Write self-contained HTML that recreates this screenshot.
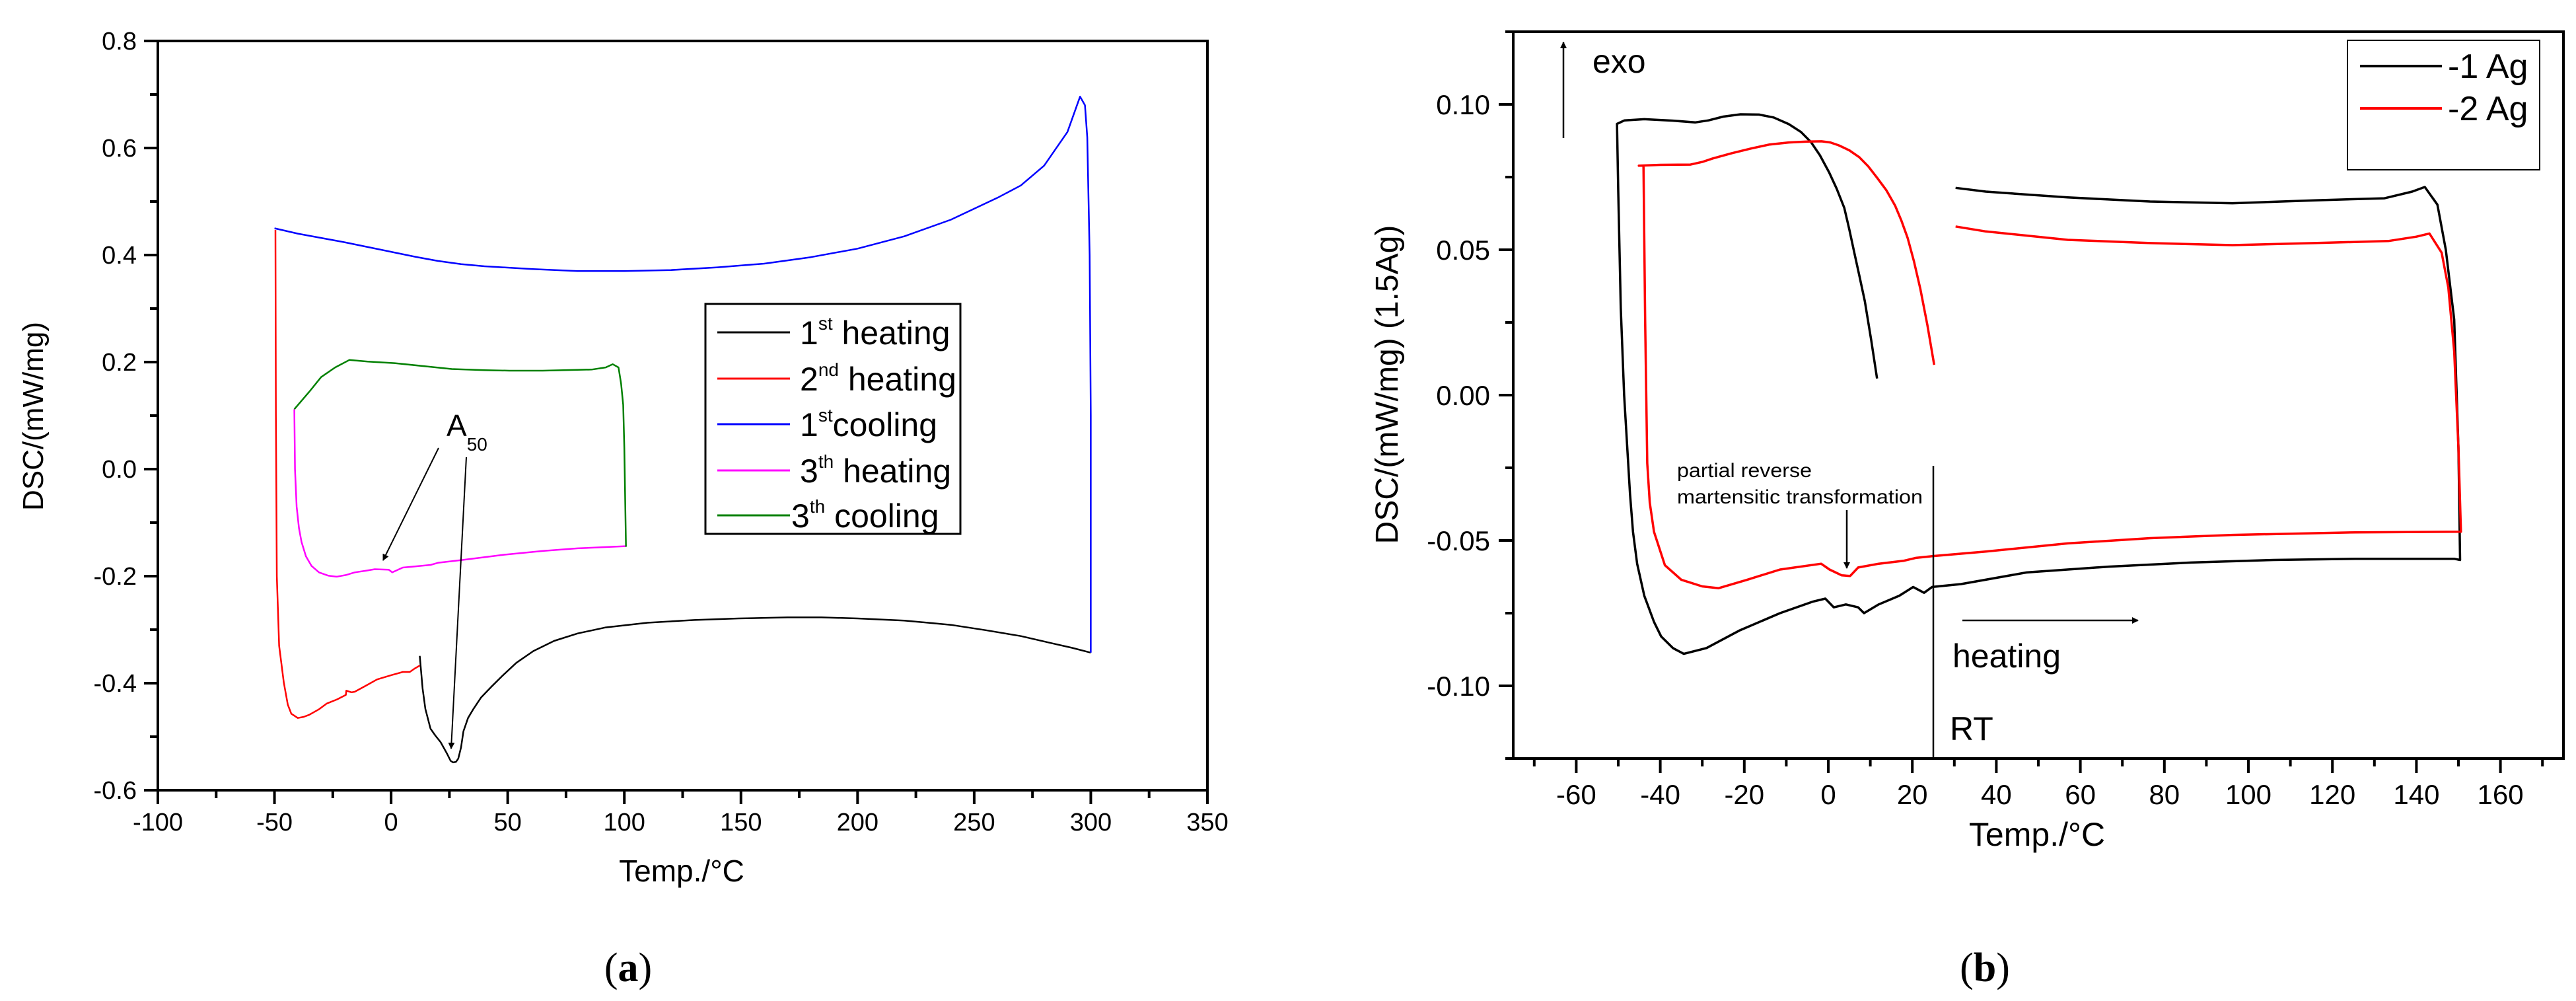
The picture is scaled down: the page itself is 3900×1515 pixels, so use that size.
<!DOCTYPE html>
<html><head><meta charset="utf-8"><style>
html,body{margin:0;padding:0;background:#fff;}
svg{display:block;font-family:"Liberation Sans",sans-serif;}
</style></head><body>
<svg id="fig" width="3900" height="1515" viewBox="0 0 3900 1515" xmlns="http://www.w3.org/2000/svg">
<g id="chartA"></g>
<g id="chartB"></g>
<defs>
<marker id="ah" markerWidth="10" markerHeight="10" refX="9" refY="5" orient="auto" markerUnits="userSpaceOnUse" viewBox="0 0 10 10"><path d="M0,0 L10,5 L0,10 z" fill="#000"/></marker>
</defs>
</svg>
<script>
// ---------- Chart (a) data ----------
const aXTicks = [-100,-50,0,50,100,150,200,250,300,350];
const aYTicks = [-0.6,-0.4,-0.2,0.0,0.2,0.4,0.6,0.8];
const aYTickLabels = ["-0.6","-0.4","-0.2","0.0","0.2","0.4","0.6","0.8"];
const aSeriesNames = ["1st heating","2nd heating","1st cooling","3th heating","3th cooling"];
const aHeat1T = [12.3,13.5,14.7,16.9,19,21.2,23.9,25.5,26.6,27.8,28.8,30,31,33,35.3,38.5,42.9,48,53.7,61,69.9,80,91.7,109.9,130,149,170,184.5,200,220,240,255,270,283,292,300];
const aHeat1V = [-0.349,-0.41,-0.448,-0.485,-0.498,-0.51,-0.531,-0.545,-0.548,-0.547,-0.541,-0.52,-0.49,-0.465,-0.448,-0.427,-0.407,-0.385,-0.362,-0.34,-0.321,-0.307,-0.296,-0.287,-0.282,-0.279,-0.277,-0.277,-0.279,-0.283,-0.291,-0.301,-0.312,-0.325,-0.334,-0.343];
const aHeat2T = [-49.6,-49.4,-49,-48,-46,-44.3,-42.8,-40,-37.5,-35.1,-31,-27.6,-23,-19.4,-19.2,-17,-15.6,-11,-6,0,5,8,10,12.3];
const aHeat2V = [0.447,0.1,-0.2,-0.33,-0.399,-0.44,-0.457,-0.465,-0.463,-0.459,-0.449,-0.438,-0.43,-0.422,-0.414,-0.417,-0.416,-0.405,-0.393,-0.385,-0.379,-0.379,-0.373,-0.367];
const aCool1T = [300,300,299.5,298.5,297.5,295.4,290,280,270,260,240,220,200,180,160,140,120,100,80,60,40,30,20,10,0,-10,-20,-30,-40,-50];
const aCool1V = [-0.343,0.1,0.4,0.62,0.68,0.696,0.63,0.567,0.53,0.507,0.466,0.435,0.412,0.396,0.384,0.377,0.372,0.370,0.370,0.374,0.379,0.383,0.389,0.397,0.406,0.415,0.424,0.432,0.44,0.45];
const aHeat3T = [-41.5,-41.2,-40.5,-39.5,-38.4,-36.5,-34.1,-30.9,-27,-23.3,-19.5,-15.6,-11,-7,-1,0.5,5,10,16.9,20.1,30,48.3,65,80,100.7];
const aHeat3V = [0.112,0.0,-0.07,-0.11,-0.136,-0.163,-0.181,-0.193,-0.199,-0.201,-0.198,-0.193,-0.19,-0.187,-0.188,-0.193,-0.184,-0.182,-0.179,-0.175,-0.17,-0.160,-0.153,-0.148,-0.144];
const aCool3T = [-41.5,-35,-30,-24,-17.9,-10,1.5,15,26,40,50.7,65,86,92,95,97.5,98.6,99.5,100,100.7];
const aCool3V = [0.112,0.145,0.172,0.19,0.204,0.201,0.198,0.192,0.187,0.185,0.184,0.184,0.186,0.19,0.196,0.19,0.16,0.12,0.04,-0.145];

// ---------- Chart (b) data ----------
const bXTicks = [-60,-40,-20,0,20,40,60,80,100,120,140,160];
const bYTicks = [-0.10,-0.05,0.00,0.05,0.10];
const bYTickLabels = ["-0.10","-0.05","0.00","0.05","0.10"];
const bSeriesNames = ["-1 Ag","-2 Ag"];
const b1T = [11.6,10.2,8.7,7.4,6.1,5,3.8,2,0.2,-2,-4.1,-6.5,-9.4,-13,-16.5,-20.9,-25,-28.5,-31.7,-37,-43.8,-48.5,-50.3,-50,-49.4,-48.6,-47.2,-46.5,-45.5,-43.8,-41.5,-39.8,-37,-34.4,-29,-21.2,-11.5,-3.6,-0.7,1.3,4.2,7.1,8.5,12,16.9,20.2,22.8,24.7,31.6,47.2,66.8,86.4,106,125.5,149,150.4,150,149,147,145,142,139,132.4,115.7,96.2,76.6,57,37.5,30.3];
const b1V = [0.0057,0.019,0.0323,0.041,0.0496,0.057,0.0644,0.071,0.0766,0.0825,0.087,0.0905,0.0932,0.0955,0.0965,0.0966,0.0958,0.0945,0.0938,0.0944,0.0949,0.0945,0.0933,0.070,0.030,0.0,-0.034,-0.047,-0.058,-0.069,-0.078,-0.083,-0.087,-0.089,-0.087,-0.081,-0.075,-0.071,-0.070,-0.073,-0.072,-0.073,-0.075,-0.072,-0.069,-0.066,-0.068,-0.066,-0.065,-0.061,-0.059,-0.0576,-0.0567,-0.0563,-0.0563,-0.0567,-0.018,0.026,0.050,0.0655,0.0716,0.070,0.0677,0.067,0.066,0.0666,0.068,0.070,0.0713];
const b2T = [25.2,23.6,21.9,20.4,18.9,17.4,15.9,13.8,11.6,9.5,7.4,5,2.5,0.5,-1.6,-5,-9.4,-14,-18.5,-23,-27.5,-30,-32.8,-40,-45.1,-44,-43.6,-43.1,-42.5,-41.5,-38.9,-35,-30,-26.1,-19.3,-11.5,-1.7,0.3,3.2,5.2,7.1,12,17.9,20.8,24.7,37.5,57,76.6,96.2,125.5,150.6,150,149,147.6,146,143.1,140,133.3,115.7,96.2,76.6,57,37.5,30.3];
const b2V = [0.0104,0.024,0.0366,0.046,0.054,0.060,0.0652,0.0705,0.0748,0.0787,0.0818,0.0842,0.0859,0.0869,0.0873,0.0872,0.0869,0.0862,0.0848,0.0832,0.0814,0.0802,0.0793,0.0792,0.0789,0.0789,0.026,-0.0234,-0.037,-0.047,-0.0585,-0.0635,-0.0658,-0.0664,-0.0635,-0.060,-0.058,-0.060,-0.062,-0.0622,-0.0593,-0.058,-0.057,-0.056,-0.0554,-0.0538,-0.051,-0.0492,-0.0481,-0.0472,-0.047,-0.018,0.015,0.037,0.049,0.0556,0.0545,0.053,0.0523,0.0516,0.0523,0.0534,0.0563,0.058];

const NS = "http://www.w3.org/2000/svg";
function mk(parent, tag, attrs, text){
  const e = document.createElementNS(NS, tag);
  for (const k in attrs) e.setAttribute(k, attrs[k]);
  if (text !== undefined) e.textContent = text;
  parent.appendChild(e);
  return e;
}
function pathFrom(T, V, xf, yf){
  let d = "";
  for (let i=0;i<T.length;i++) d += (i?"L":"M") + xf(T[i]).toFixed(1) + "," + yf(V[i]).toFixed(1);
  return d;
}

// ===== Chart A =====
const A = document.getElementById("chartA");
const aL=239, aR=1828, aT=62, aB=1196;
const ax = t => aL + (t+100)/450*(aR-aL);
const ay = v => aT + (0.8-v)/1.4*(aB-aT);

let fr = mk(A,"rect",{x:aL,y:aT,width:aR-aL,height:aB-aT,fill:"none",stroke:"#000","stroke-width":4});


for (let t=-100;t<=350;t+=25){
  const maj = (t%50===0);
  let tk = mk(A,"line",{x1:ax(t),x2:ax(t),y1:aB,y2:aB+(maj?21:12),stroke:"#000","stroke-width":4});
  
  
}
aXTicks.forEach(t=>{
  let lb = mk(A,"text",{x:ax(t),y:1257,"font-size":38,"text-anchor":"middle"}, String(t));
  
  
});
for (let k=-6;k<=8;k++){
  const v=k/10, maj=(k%2===0);
  let tk = mk(A,"line",{x1:aL,x2:aL-(maj?21:12),y1:ay(v),y2:ay(v),stroke:"#000","stroke-width":4});
  
  
}
aYTicks.forEach((v,i)=>{
  let lb = mk(A,"text",{x:207,y:ay(v)+13,"font-size":38,"text-anchor":"end"}, aYTickLabels[i]);
  
  
});
let xtA = mk(A,"text",{x:1032,y:1334,"font-size":46,"text-anchor":"middle"},"Temp./°C");


let ytA = mk(A,"text",{x:0,y:0,"font-size":44,"text-anchor":"middle",transform:"translate(65,630) rotate(-90)"},"DSC/(mW/mg)");



const aColors = ["#000000","#ff0000","#0000ff","#ff00ff","#008000"];
const aData = [[aHeat1T,aHeat1V],[aHeat2T,aHeat2V],[aCool1T,aCool1V],[aHeat3T,aHeat3V],[aCool3T,aCool3V]];
const aNamesK = ["series-1st-heating","series-2nd-heating","series-1st-cooling","series-3th-heating","series-3th-cooling"];
aData.forEach((s,i)=>{
  let p = mk(A,"path",{d:pathFrom(s[0],s[1],ax,ay),fill:"none",stroke:aColors[i],"stroke-width":2.5,"stroke-linejoin":"round"});
  
  
});

// legend A
let lgA = mk(A,"g",{});


mk(lgA,"rect",{x:1068,y:460,width:386,height:348,fill:"#fff",stroke:"#000","stroke-width":3});
const lgAy=[503,573,642,712,780];
const lgSup=[["1","st"," heating"],["2","nd"," heating"],["1","st","cooling"],["3","th"," heating"],["3","th"," cooling"]];
const lgTx=[1211,1211,1211,1211,1198];
lgAy.forEach((y,i)=>{
  let ln = mk(lgA,"line",{x1:1086,x2:1196,y1:y,y2:y,stroke:aColors[i],"stroke-width":3});
  
  
  let tx = mk(lgA,"text",{x:lgTx[i],y:y+18,"font-size":50});
  
  
  mk(tx,"tspan",{},lgSup[i][0]);
  mk(tx,"tspan",{dy:-22,"font-size":28},lgSup[i][1]);
  mk(tx,"tspan",{dy:22},lgSup[i][2]);
});
// A50 annotation
let a50 = mk(A,"text",{x:676,y:660,"font-size":46});


mk(a50,"tspan",{},"A");
mk(a50,"tspan",{dy:22,"font-size":28},"50");
let ar1 = mk(A,"line",{x1:664,y1:678,x2:580,y2:848,stroke:"#000","stroke-width":2,"marker-end":"url(#ah)"});


let ar2 = mk(A,"line",{x1:706,y1:692,x2:683,y2:1133,stroke:"#000","stroke-width":2,"marker-end":"url(#ah)"});


let capA = mk(A,"text",{x:951,y:1485,"font-size":62,"text-anchor":"middle","font-family":"Liberation Serif, serif"});


mk(capA,"tspan",{},"(");
mk(capA,"tspan",{"font-weight":"bold"},"a");
mk(capA,"tspan",{},")");

// ===== Chart B =====
const B = document.getElementById("chartB");
const bL=2291, bR=3881, bT=48, bB=1148;
const bx = t => bL + (t+75)/250*(bR-bL);
const by = v => bT + (0.125-v)/0.25*(bB-bT);

let frB = mk(B,"rect",{x:bL,y:bT,width:bR-bL,height:bB-bT,fill:"none",stroke:"#000","stroke-width":4});


for (let t=-70;t<=170;t+=10){
  const maj=(t%20===0);
  let tk = mk(B,"line",{x1:bx(t),x2:bx(t),y1:bB,y2:bB+(maj?22:12),stroke:"#000","stroke-width":4});
  
  
}
bXTicks.forEach(t=>{
  let lb = mk(B,"text",{x:bx(t),y:1217,"font-size":42,"text-anchor":"middle"},String(t));
  
  
});
for (let k=-5;k<=5;k++){
  const v=k*0.025, maj=(k%2===0);
  let tk = mk(B,"line",{x1:bL,x2:bL-(maj?22:12),y1:by(v),y2:by(v),stroke:"#000","stroke-width":4});
  
  
}
bYTicks.forEach((v,i)=>{
  let lb = mk(B,"text",{x:2256,y:by(v)+15,"font-size":42,"text-anchor":"end"},bYTickLabels[i]);
  
  
});
let xtB = mk(B,"text",{x:3084,y:1280,"font-size":50,"text-anchor":"middle"},"Temp./°C");


let ytB = mk(B,"text",{x:0,y:0,"font-size":48,"text-anchor":"middle",transform:"translate(2116,582) rotate(-90)"},"DSC/(mW/mg) (1.5Ag)");



const bColors=["#000000","#ff0000"];
const bData=[[b1T,b1V],[b2T,b2V]];
const bNamesK=["series-1-ag","series-2-ag"];
bData.forEach((s,i)=>{
  let p = mk(B,"path",{d:pathFrom(s[0],s[1],bx,by),fill:"none",stroke:bColors[i],"stroke-width":3.5,"stroke-linejoin":"round"});
  
  
});

// legend B
let lgB = mk(B,"g",{});


mk(lgB,"rect",{x:3554,y:61,width:291,height:196,fill:"#fff",stroke:"#000","stroke-width":2});
[100,164].forEach((y,i)=>{
  let ln = mk(lgB,"line",{x1:3573,x2:3697,y1:y,y2:y,stroke:bColors[i],"stroke-width":4});
  
  
  let tx = mk(lgB,"text",{x:3706,y:y+18,"font-size":52},bSeriesNames[i]);
  
  
});

// annotations B
let exoA = mk(B,"line",{x1:2367,y1:209,x2:2367,y2:64,stroke:"#000","stroke-width":2.5,"marker-end":"url(#ah)"});


let exoT = mk(B,"text",{x:2411,y:110,"font-size":50},"exo");


let p1 = mk(B,"text",{x:2539,y:722,"font-size":30,textLength:204,lengthAdjust:"spacingAndGlyphs"},"partial reverse");


let p2 = mk(B,"text",{x:2539,y:762,"font-size":30,textLength:372,lengthAdjust:"spacingAndGlyphs"},"martensitic transformation");


let pa = mk(B,"line",{x1:2796,y1:772,x2:2796,y2:860,stroke:"#000","stroke-width":2.5,"marker-end":"url(#ah)"});


let rt = mk(B,"line",{x1:bx(25),x2:bx(25),y1:705,y2:bB,stroke:"#000","stroke-width":2.5});


let rtT = mk(B,"text",{x:2952,y:1120,"font-size":50},"RT");


let ha = mk(B,"line",{x1:2971,y1:939,x2:3237,y2:939,stroke:"#000","stroke-width":2.5,"marker-end":"url(#ah)"});


let hT = mk(B,"text",{x:2956,y:1010,"font-size":50},"heating");


let capB = mk(B,"text",{x:3005,y:1485,"font-size":62,"text-anchor":"middle","font-family":"Liberation Serif, serif"});


mk(capB,"tspan",{},"(");
mk(capB,"tspan",{"font-weight":"bold"},"b");
mk(capB,"tspan",{},")");
</script>
</body></html>
